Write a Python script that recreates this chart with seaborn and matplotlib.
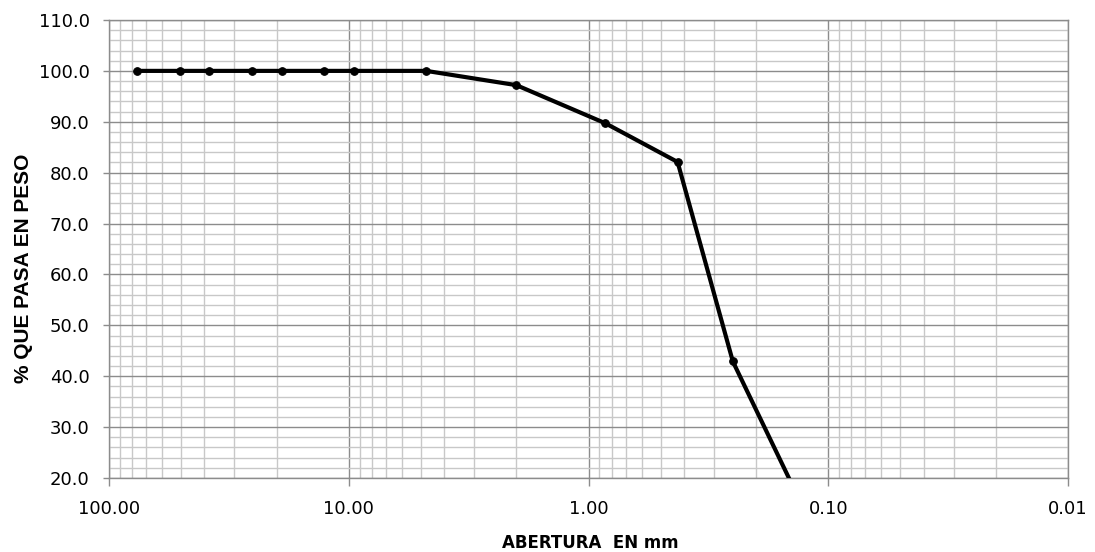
import matplotlib
matplotlib.use("Agg")
import matplotlib.pyplot as plt
import matplotlib.ticker as mticker
import seaborn as sns
import numpy as np
import pandas as pd

# Sieve openings (mm) and % passing
abertura_mm = [76.2, 50.8, 38.1, 25.4, 19.05, 12.7, 9.525, 4.75, 2.00, 0.85, 0.425, 0.25, 0.106]
pasa_pct = [100.0, 100.0, 100.0, 100.0, 100.0, 100.0, 100.0, 100.0, 97.2, 89.7, 82.1, 42.9, 6.4]

x_ticks = [100, 10, 1, 0.1, 0.01]
y_ticks = [20, 30, 40, 50, 60, 70, 80, 90, 100, 110]

xlabel = "ABERTURA  EN mm"
ylabel = "% QUE PASA EN PESO"

sns.set_style("white")
plt.rcParams['font.family'] = ['DejaVu Sans']

df = pd.DataFrame({"abertura": abertura_mm, "pasa": pasa_pct})

fig = plt.figure(figsize=(10.95, 5.52), dpi=100)
ax = fig.add_axes([109/1095, 1 - 478/552, (1068-109)/1095, (478-20)/552])

sns.lineplot(data=df, x="abertura", y="pasa", ax=ax, color="black",
             linewidth=3.0, marker="o", markersize=5.5, markeredgecolor="black",
             markerfacecolor="black", sort=False, zorder=5)

ax.set_xscale("log")
ax.set_xlim(100, 0.01)
ax.set_ylim(20, 110)

ax.xaxis.set_major_locator(mticker.FixedLocator(x_ticks))
ax.xaxis.set_major_formatter(mticker.FuncFormatter(lambda v, p: f"{v:.2f}"))
ax.xaxis.set_minor_locator(mticker.LogLocator(base=10, subs=np.arange(2, 10)))
ax.xaxis.set_minor_formatter(mticker.NullFormatter())

ax.yaxis.set_major_locator(mticker.FixedLocator(y_ticks))
ax.yaxis.set_major_formatter(mticker.FuncFormatter(lambda v, p: f"{v:.1f}"))
ax.yaxis.set_minor_locator(mticker.MultipleLocator(2))

ax.grid(which="major", color="#8c8c8c", linewidth=1.0)
ax.grid(which="minor", color="#c8c8c8", linewidth=1.0)
ax.set_axisbelow(True)

for s in ax.spines.values():
    s.set_visible(True)
    s.set_color("#8c8c8c")
    s.set_linewidth(1.0)

ax.tick_params(axis="x", which="major", direction="out", length=6, width=1,
               color="#8c8c8c", labelsize=13, pad=10, bottom=True, labelcolor="black")
ax.tick_params(axis="y", which="major", direction="out", length=4, width=1,
               color="#8c8c8c", labelsize=13, pad=10, left=True, labelcolor="black")
ax.tick_params(which="minor", length=0)

ax.set_xlabel(xlabel, fontsize=12, fontweight="bold", family="DejaVu Sans", color="black")
ax.set_ylabel(ylabel, fontsize=15, fontweight="bold", family="Liberation Sans", color="black")
ax.xaxis.set_label_coords(0.502, (552 - 543 - (552 - 478)) / (478 - 20))
ax.yaxis.set_label_coords((24 - 109) / (1068 - 109), (478 - 268) / (478 - 20))
ax.xaxis.label.set_va("center")
ax.yaxis.label.set_va("center")

fig.savefig("out.png", dpi=100)
